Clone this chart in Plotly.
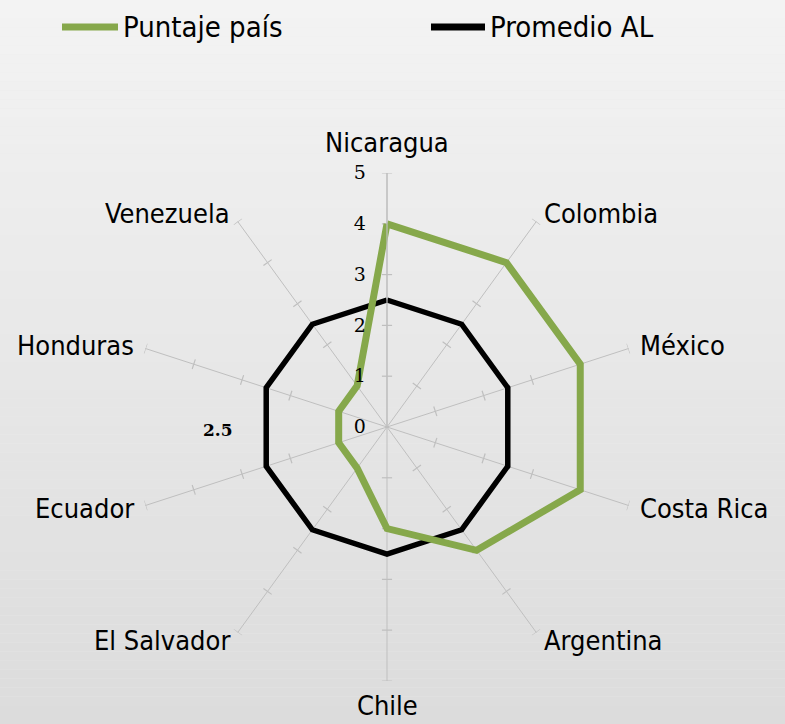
import math
import plotly.graph_objects as go

# Categories clockwise from the top
countries = ["Nicaragua", "Colombia", "México", "Costa Rica", "Argentina",
             "Chile", "El Salvador", "Ecuador", "Honduras", "Venezuela"]
puntaje_pais = [4, 4, 4, 4, 3, 2, 1, 1, 1, 1]
promedio_al = [2.5, 2.5, 2.5, 2.5, 2.5, 2.5, 2.5, 2.5, 2.5, 2.5]
radial_ticks = [0, 1, 2, 3, 4, 5]
series_names = ["Puntaje país", "Promedio AL"]
stray_label = "2.5"

GREEN = "#86A84B"
BLACK = "#000000"
GRID = "#BFBFBF"
SANS = "DejaVu Sans Condensed, DejaVu Sans, sans-serif"
SERIF = "DejaVu Serif, Liberation Serif, serif"

W, H = 785, 724
cx, cy, R = 387, 427, 254          # polar centre and outer radius, in pixels
n = len(countries)
angles = [360.0 * i / n for i in range(n)]


def closed(vals):
    return list(vals) + [vals[0]]


fig = go.Figure()

# small crossing tick marks on each spoke at every integer radius
half = 0.1
tr, tt = [], []
for a in angles:
    for r in radial_ticks[1:]:
        rr = math.hypot(r, half)
        da = math.degrees(math.atan2(half, r))
        tr += [rr, rr, None]
        tt += [a - da, a + da, None]
fig.add_trace(go.Scatterpolar(r=tr, theta=tt, mode="lines",
                              line=dict(color=GRID, width=1.2),
                              hoverinfo="skip", showlegend=False))

fig.add_trace(go.Scatterpolar(r=closed(promedio_al), theta=closed(angles),
                              mode="lines", name=series_names[1],
                              line=dict(color=BLACK, width=5.5),
                              showlegend=False))
fig.add_trace(go.Scatterpolar(r=closed(puntaje_pais), theta=closed(angles),
                              mode="lines", name=series_names[0],
                              line=dict(color=GREEN, width=7),
                              showlegend=False))

# vertical grey gradient behind everything
shapes = []
steps = 80
top_c, bot_c = 243, 220
for i in range(steps):
    c = round(top_c + (bot_c - top_c) * i / (steps - 1))
    shapes.append(dict(type="rect", xref="paper", yref="paper", layer="below",
                       x0=0, x1=1, y0=1 - (i + 1) / steps, y1=1 - i / steps,
                       line=dict(width=0), fillcolor=f"rgb({c},{c},{c})"))

# legend drawn as line samples with labels
legend_y = 1 - 27 / H
for (x0, x1), col in zip([(62, 118), (431, 485)], [GREEN, BLACK]):
    shapes.append(dict(type="line", xref="paper", yref="paper",
                       x0=x0 / W, x1=x1 / W, y0=legend_y, y1=legend_y,
                       line=dict(color=col, width=7)))

annotations = [
    dict(text=series_names[0], x=121 / W, y=legend_y, xref="paper", yref="paper",
         xanchor="left", yanchor="middle", showarrow=False,
         font=dict(family=SANS, size=29, color="black")),
    dict(text=series_names[1], x=488 / W, y=legend_y, xref="paper", yref="paper",
         xanchor="left", yanchor="middle", showarrow=False,
         font=dict(family=SANS, size=29, color="black")),
    dict(text="<b>" + stray_label + "</b>", x=218 / W, y=1 - 430 / H,
         xref="paper", yref="paper", xanchor="center", yanchor="middle",
         showarrow=False, font=dict(family=SERIF, size=17, color="black")),
]

# category labels just beyond the end of each spoke
for name, a in zip(countries, angles):
    s, c = math.sin(math.radians(a)), math.cos(math.radians(a))
    if abs(s) < 1e-6:
        dist = R + (30 if c > 0 else 24)
        xa = "center"
    else:
        dist = R + 10
        xa = "left" if s > 0 else "right"
    px = cx + dist * s
    py = cy - dist * c
    annotations.append(dict(text=name, x=px / W, y=1 - py / H,
                            xref="paper", yref="paper", xanchor=xa,
                            yanchor="middle", showarrow=False,
                            font=dict(family=SANS, size=27, color="black")))

fig.update_layout(
    width=W, height=H,
    margin=dict(l=0, r=0, t=0, b=0),
    paper_bgcolor="#EBEBEB",
    plot_bgcolor="rgba(0,0,0,0)",
    shapes=shapes,
    annotations=annotations,
    showlegend=False,
    polar=dict(
        domain=dict(x=[(cx - R) / W, (cx + R) / W],
                    y=[(H - cy - R) / H, (H - cy + R) / H]),
        bgcolor="rgba(0,0,0,0)",
        angularaxis=dict(
            type="linear", rotation=90, direction="clockwise",
            tickmode="array", tickvals=angles, ticktext=countries,
            showticklabels=False,
            showline=False, showgrid=True, gridcolor=GRID, gridwidth=1.2,
            ticks="",
        ),
        radialaxis=dict(
            range=[0, 5], tickmode="array", tickvals=radial_ticks,
            angle=90, side="counterclockwise", tickangle=90,
            showline=True, linecolor=GRID, linewidth=1.2,
            showgrid=False, ticks="outside", ticklen=14,
            tickcolor="rgba(0,0,0,0)",
            tickfont=dict(family=SERIF, size=19, color="black"),
        ),
    ),
)

fig.write_html("out.html")
